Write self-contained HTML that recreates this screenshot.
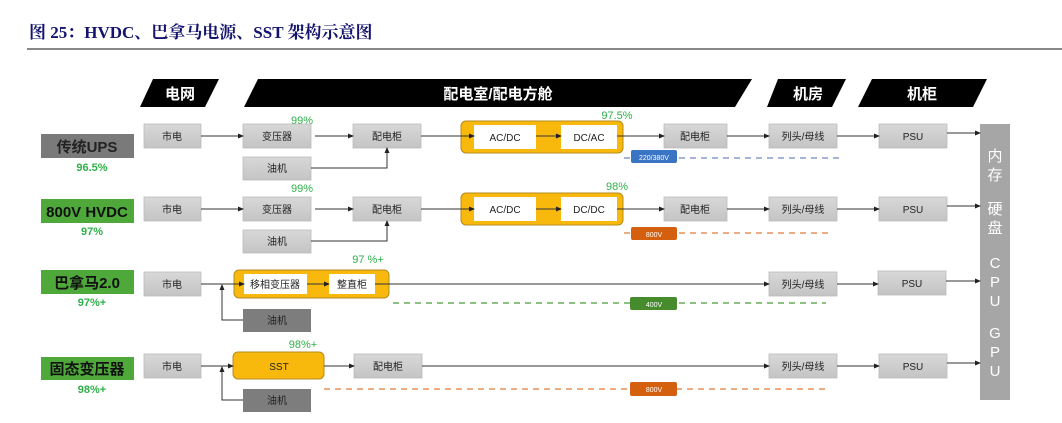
<!DOCTYPE html>
<html><head><meta charset="utf-8"><style>
body{margin:0;background:#fff;width:1062px;height:423px;overflow:hidden}
svg{display:block}
.t{font-family:"Liberation Sans","Noto Sans CJK SC",sans-serif}
</style></head><body>
<svg width="1062" height="423" viewBox="0 0 1062 423" xmlns="http://www.w3.org/2000/svg" class="t">
<defs>
<marker id="a" markerWidth="6" markerHeight="6" refX="5" refY="3" orient="auto" markerUnits="userSpaceOnUse"><path d="M0,0.5 L6,3 L0,5.5z" fill="#222"/></marker>
<linearGradient id="g" x1="0" y1="0" x2="0" y2="1"><stop offset="0" stop-color="#d8d8d8"/><stop offset="1" stop-color="#c4c4c4"/></linearGradient>
</defs>
<text x="29" y="38" font-family="Liberation Serif,'Noto Serif CJK SC',serif" font-weight="bold" font-size="17" fill="#14146e">图 25：HVDC、巴拿马电源、SST 架构示意图</text>
<line x1="27" y1="49" x2="1062" y2="49" stroke="#111" stroke-width="1"/>
<!-- headers -->
<g fill="#000"><polygon points="153,79 219,79 205,107 140,107"/><polygon points="258,79 752,79 735,107 244,107"/><polygon points="778,79 846,79 832,107 767,107"/><polygon points="872,79 987,79 973,107 858,107"/></g>
<g fill="#fff" font-size="15" font-weight="bold" text-anchor="middle"><text x="180" y="99">电网</text><text x="498" y="99">配电室/配电方舱</text><text x="808" y="99">机房</text><text x="922" y="99">机柜</text></g>
<!-- row labels -->
<rect x="41" y="134" width="93" height="24" fill="#7a7a7a"/><text x="87" y="152" text-anchor="middle" font-size="15" font-weight="bold" fill="#222">传统UPS</text>
<rect x="41" y="199" width="93" height="24" fill="#4ea83a"/><text x="87" y="217" text-anchor="middle" font-size="15" font-weight="bold" fill="#111">800V HVDC</text>
<rect x="41" y="270" width="93" height="24" fill="#4ea83a"/><text x="87" y="288" text-anchor="middle" font-size="15" font-weight="bold" fill="#111">巴拿马2.0</text>
<rect x="41" y="357" width="93" height="23" fill="#4ea83a"/><text x="87" y="374" text-anchor="middle" font-size="15" font-weight="bold" fill="#111">固态变压器</text>
<g fill="#2fb04a" font-size="11" font-weight="bold" text-anchor="middle"><text x="92" y="171">96.5%</text><text x="92" y="235">97%</text><text x="92" y="306">97%+</text><text x="92" y="393">98%+</text></g>
<g fill="#2fb04a" font-size="11" text-anchor="middle"><text x="302" y="124">99%</text><text x="302" y="192">99%</text><text x="617" y="119">97.5%</text><text x="617" y="190">98%</text><text x="368" y="263">97 %+</text><text x="303" y="348">98%+</text></g>
<!-- yellow containers -->
<g fill="#f8b90c" stroke="#b58a20" stroke-width="1"><rect x="461" y="121" width="162" height="32" rx="5"/><rect x="461" y="193" width="162" height="32" rx="5"/><rect x="234" y="270" width="155" height="28" rx="5"/><rect x="233" y="352" width="91" height="27" rx="5"/></g>
<g fill="#fff"><rect x="474" y="125" width="62" height="24"/><rect x="561" y="125" width="56" height="24"/><rect x="474" y="197" width="62" height="24"/><rect x="561" y="197" width="56" height="24"/><rect x="244" y="274" width="63" height="20"/><rect x="329" y="274" width="46" height="20"/></g>
<!-- grey boxes -->
<g fill="url(#g)" stroke="#bbb" stroke-width="0.8">
<rect x="144" y="124" width="57" height="24"/><rect x="243" y="124" width="68" height="24"/><rect x="353" y="124" width="68" height="24"/><rect x="243" y="157" width="68" height="23"/><rect x="664" y="124" width="63" height="24"/><rect x="769" y="124" width="68" height="24"/><rect x="879" y="124" width="68" height="24"/>
<rect x="144" y="197" width="57" height="24"/><rect x="243" y="197" width="68" height="24"/><rect x="353" y="197" width="68" height="24"/><rect x="243" y="230" width="68" height="23"/><rect x="664" y="197" width="63" height="24"/><rect x="769" y="197" width="68" height="24"/><rect x="879" y="197" width="68" height="24"/>
<rect x="144" y="272" width="57" height="24"/><rect x="769" y="272" width="68" height="24"/><rect x="878" y="271" width="68" height="24"/>
<rect x="144" y="354" width="57" height="24"/><rect x="354" y="354" width="68" height="24"/><rect x="769" y="354" width="68" height="24"/><rect x="879" y="354" width="68" height="24"/>
</g>
<g fill="#7d7d7d"><rect x="243" y="309" width="68" height="23"/><rect x="243" y="389" width="68" height="23"/></g>
<rect x="980" y="124" width="30" height="276" fill="#a6a6a6"/>
<g fill="#fff" font-size="15" text-anchor="middle"><text x="995" y="161">内</text><text x="995" y="180">存</text><text x="995" y="214">硬</text><text x="995" y="233">盘</text><text x="995" y="268">C</text><text x="995" y="287">P</text><text x="995" y="306">U</text><text x="995" y="338">G</text><text x="995" y="357">P</text><text x="995" y="376">U</text></g>
<!-- box text -->
<g font-size="10" fill="#222" text-anchor="middle">
<text x="172" y="140">市电</text><text x="277" y="140">变压器</text><text x="387" y="140">配电柜</text><text x="277" y="172">油机</text><text x="505" y="141">AC/DC</text><text x="589" y="141">DC/AC</text><text x="695" y="140">配电柜</text><text x="803" y="140">列头/母线</text><text x="913" y="140">PSU</text>
<text x="172" y="213">市电</text><text x="277" y="213">变压器</text><text x="387" y="213">配电柜</text><text x="277" y="245">油机</text><text x="505" y="213">AC/DC</text><text x="589" y="213">DC/DC</text><text x="695" y="213">配电柜</text><text x="803" y="213">列头/母线</text><text x="913" y="213">PSU</text>
<text x="172" y="288">市电</text><text x="275" y="288">移相变压器</text><text x="352" y="288">整直柜</text><text x="277" y="324">油机</text><text x="803" y="288">列头/母线</text><text x="912" y="287">PSU</text>
<text x="172" y="370">市电</text><text x="279" y="370">SST</text><text x="388" y="370">配电柜</text><text x="277" y="404">油机</text><text x="803" y="370">列头/母线</text><text x="913" y="370">PSU</text>
</g>
<!-- arrows -->
<g stroke="#333" stroke-width="1" fill="none" marker-end="url(#a)">
<line x1="201" y1="136" x2="243" y2="136"/><line x1="315" y1="136" x2="353" y2="136"/><line x1="421" y1="136" x2="474" y2="136"/><line x1="536" y1="136" x2="561" y2="136"/><line x1="617" y1="136" x2="664" y2="136"/><line x1="727" y1="136" x2="769" y2="136"/><line x1="837" y1="136" x2="879" y2="136"/><line x1="947" y1="133" x2="980" y2="133"/><polyline points="311,168 387,168 387,148"/>
<line x1="201" y1="209" x2="243" y2="209"/><line x1="315" y1="209" x2="353" y2="209"/><line x1="421" y1="209" x2="474" y2="209"/><line x1="536" y1="209" x2="561" y2="209"/><line x1="617" y1="209" x2="664" y2="209"/><line x1="727" y1="209" x2="769" y2="209"/><line x1="837" y1="209" x2="879" y2="209"/><line x1="947" y1="206" x2="980" y2="206"/><polyline points="311,241 387,241 387,221"/>
<line x1="201" y1="284" x2="244" y2="284"/><line x1="307" y1="284" x2="329" y2="284"/><line x1="375" y1="284" x2="769" y2="284"/><line x1="837" y1="284" x2="878" y2="284"/><line x1="946" y1="281" x2="980" y2="281"/><polyline points="243,320 222,320 222,285"/>
<line x1="201" y1="366" x2="233" y2="366"/><line x1="324" y1="366" x2="354" y2="366"/><line x1="422" y1="366" x2="769" y2="366"/><line x1="837" y1="366" x2="879" y2="366"/><line x1="947" y1="363" x2="980" y2="363"/><polyline points="243,400 222,400 222,367"/>
</g>
<!-- dashed lines & badges -->
<g fill="none" stroke-width="1.3" stroke-dasharray="6,5"><line x1="624" y1="158" x2="841" y2="158" stroke="#6f86c0"/><line x1="624" y1="233" x2="828" y2="233" stroke="#e07a3a"/><line x1="393" y1="303" x2="826" y2="303" stroke="#4a9a3a"/><line x1="324" y1="389" x2="826" y2="389" stroke="#e07a3a"/></g>
<rect x="631" y="150" width="46" height="13" rx="2" fill="#3a74c4"/><text x="654" y="160" font-size="7" fill="#fff" text-anchor="middle">220/380V</text>
<rect x="631" y="227" width="46" height="13" rx="2" fill="#d4600f"/><text x="654" y="237" font-size="7" fill="#fff" text-anchor="middle">800V</text>
<rect x="630" y="297" width="47" height="13" rx="2" fill="#468c2c"/><text x="654" y="307" font-size="7" fill="#fff" text-anchor="middle">400V</text>
<rect x="630" y="382" width="47" height="14" rx="2" fill="#d4600f"/><text x="654" y="392" font-size="7" fill="#fff" text-anchor="middle">800V</text>
</svg>
</body></html>
